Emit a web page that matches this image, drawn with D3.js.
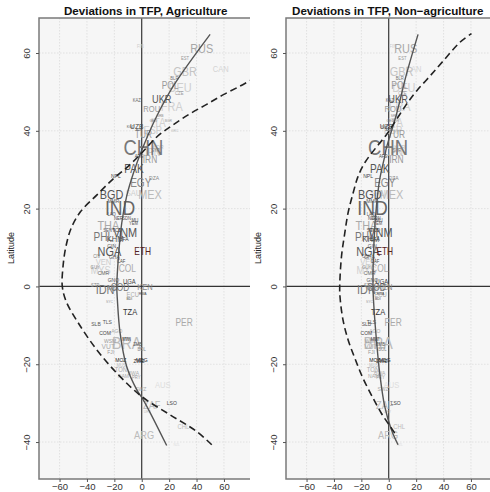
<!DOCTYPE html>
<html><head><meta charset="utf-8">
<script src="https://cdn.jsdelivr.net/npm/d3@7"></script>
<style>body{margin:0;background:#fff}svg{display:block}</style>
</head><body>
<script>
// ---- data ----
const panelTitles = ["Deviations in TFP, Agriculture", "Deviations in TFP, Non\u2212agriculture"];
const xTicks = [-60,-40,-20,0,20,40,60];
const yTicks = [-40,-20,0,20,40,60];
// country labels: code, latitude, deviation agriculture, deviation non-agriculture, font size, colour
const codes = ["RUS","EST","CAN","GBR","BLR","POL","DEU","CZE","KAZ","UKR","FRA","ROU","SRB","BGR","GEO","ITA","UZB","KGZ","ESP","GRC","TUR","AZE","CHN","JPN","IRN","AFG","SYR","KOR","PAK","NPL","DZA","EGY","SAU","MEX","BGD","MMR","IND","LAO","NER","SDN","YEM","MLI","THA","SEN","VNM","TCD","PHL","KHM","BFA","GIN","NGA","ETH","CIV","GHA","VEN","CAF","COL","GUY","MYS","CMR","GNQ","UGA","KEN","IDN","COD","STP","GAB","ECU","RWA","BDI","SYC","TZA","PER","SLB","TLS","COM","AGO","MWI","WSM","BRA","VUT","FJI","BOL","ZMB","MOZ","MDG","ZWE","TON","MUS","NAM","BWA","PRY","AUS","SWZ","LSO","ZAF","URY","CHL","ARG","NZL","FIN"];
const lats  = [61.2,58.5,56,55.2,53.6,51.7,51.2,49.6,47.8,48.1,46.1,45.7,43.8,42.6,42.5,42,41.2,41,40.2,40,39,40.3,35.8,34.5,32.5,33.5,35,36,30.2,28.5,28,26.6,24.2,23.6,23.6,21.9,20.4,18.5,17.4,17.4,16.3,17,15.6,14.5,13.9,14.5,12.9,12.2,12.2,10.5,9,8.9,7.6,7.5,6.4,6.5,4.6,5,4.1,3.5,1.7,1.3,0,-0.8,-0.4,0.3,-0.5,-1.9,-1.9,-3.2,-4.1,-6.6,-9.3,-9.7,-9.2,-12,-11.3,-13.5,-13.9,-14.6,-15.4,-16.7,-16.3,-15,-18.9,-18.9,-19,-21.3,-20.2,-23,-22.1,-23.4,-25.3,-26.4,-29.8,-30.5,-32.2,-35.9,-38.3,-40.7,61.8];
const devAg = [43.8,31.6,57.7,31.6,23.8,20.7,28,27.4,-3.6,14.6,21.9,7.3,13.4,19.4,8.5,12,-3.6,-8.5,8,24,1.2,-2,1.2,7.3,6,-2,10,12,-5.6,-18.8,9,-0.7,-6,6,-22,-20.7,-15.8,-22,-17,-11,-6,-5,-24.4,-25,-12.2,-18,-28,-19.5,-13,-22,-23.6,0.7,-32.8,-20,-28,-15,-10.5,-34,-30,-28,-20.7,-9,2.4,-26.8,-15.8,-34,-22,-6.6,0.7,-9,-23.6,-8.5,30.9,-33.4,-25.1,-26.8,-18.2,-11,-23.1,-11,-24.4,-22.6,0,-3,-15.3,0,-2,-15.3,-15,-13.4,-6.1,-4,15.3,-0.7,21.9,7.3,4.1,30.4,1.7,25.5,-1];
const devNa = [12.4,10,18,9.3,8,8,11,10,0.7,6.8,8,3,4,5,1,5,-1.7,-3,3,6,5.6,0,-0.5,4,5.6,-4,6,8,-6.6,-15.1,3.6,-2.9,-7.8,2,-13.9,-12,-11.9,-13,-12,-9,-8,-7,-16.3,-13,-6.1,-10,-17.5,-13,-10,-12,-15.1,-2.9,-17,-14,-15.1,-10,-6.6,-16,-16.3,-14,-12,-5,-2.9,-16.3,-9,-15,-12,-6,-6,-8,-14,-7.8,3.2,-16.3,-12.6,-16.3,-10.2,-10,-13,-7.8,-13,-12.6,-4.6,-6,-10.2,-2.9,-5,-11.5,-11,-11,-6.6,-6,2,-4.2,5.1,-2.9,-1,7.5,-0.5,8,3];
const sizes = [13,5,9,13,5,10,13,5,5,11,13,9,4,4,4,12,8,4,11,4,10,4,22,11,10,5,5,6,12,6,6,12,9,13,13,6,21,5,5,5,5,5,13,5,13,6,12,9,6,6,13,10,5,6,9,5,10,5,11,6,6,7,9,13,10,5,5,7,4,4,4,9,10,6,6,6,6,5,6,17,8,6,5,5,6,6,6,7,5,6,6,5,9,6,6,11,4,7,11,4,5];
const colours = ["#a8a8a8","#999","#d4d4d4","#c4c4c4","#777","#999","#cfcfcf","#999","#666","#555","#d0d0d0","#999","#888","#999","#777","#d0d0d0","#444","#555","#ccc","#bbb","#9a9a9a","#666","#787878","#c8c8c8","#999","#444","#777","#bbb","#555","#444","#888","#888","#ccc","#bbb","#555","#555","#666","#555","#444","#555","#555","#444","#aaa","#555","#555","#444","#777","#555","#444","#555","#555","#552222","#777","#555","#ccc","#444","#aaa","#888","#cfcfcf","#666","#555","#444","#888","#777","#777","#888","#999","#aaa","#444","#444","#999","#333","#aaa","#555","#555","#444","#aaa","#333","#999","#bbb","#aaa","#999","#888","#555","#222","#222","#333","#aaa","#bbb","#aaa","#aaa","#999","#ddd","#aaa","#444","#bbb","#bbb","#bbb","#bbb","#ddd","#ccc"];
// fitted curves: [latitude, deviation]
const fitAgSolid = [[-40.9,18.2],[-29.2,1.2],[-26.6,-3.6],[-20.6,-11],[-12,-15.8],[-3.4,-17.8],[0,-18.2],[7.7,-17],[16.3,-14.6],[23.2,-11],[29.2,-6],[35,0],[43.8,11],[51.5,23],[64.8,49.9]];
const fitAgDashed = [[-40.7,51.1],[-37.3,40.1],[-33,20.7],[-28.3,0],[-22.7,-17.1],[-16.3,-32.8],[-9.4,-46.3],[-4,-55],[0,-58],[5,-57.5],[10,-55.5],[15,-51.5],[19.3,-44.5],[23.6,-32.5],[27.6,-21],[31,-9.5],[34.5,0.5],[38.6,11.5],[41.6,23.1],[44.4,35.3],[46.8,47.4],[49.3,59.6],[51.5,71.8],[53.5,82]];
const fitNaSolid = [[-40.7,6.8],[-36.9,2],[-30.9,-2.9],[-22.3,-6.6],[-13.7,-9],[-6,-10.7],[0,-11.5],[12,-10.7],[20.6,-9],[27.5,-6.6],[33.5,-2.9],[35.6,-1.7],[44.2,5.6],[54.5,12.9],[64.8,21.4]];
const fitNaDashed = [[-37.7,4.4],[-35.2,-0.5],[-32.6,-5.4],[-28.7,-11.5],[-23.6,-18.8],[-18.4,-24.8],[-13.7,-29.7],[-8.6,-33.4],[-2.6,-35.6],[0,-35.8],[7.7,-34.5],[13.7,-32.1],[18.9,-29.7],[24,-26],[28.3,-22.4],[31.8,-17.5],[35.6,-9.5],[39,-1.7],[42.9,5.6],[46.8,12.9],[50.2,20.2],[54,29.9],[57.9,39.6],[62.7,51.8],[65,60.4]];

// ---- drawing ----
const W = 490, H = 492;
const svg = d3.select("body").append("svg").attr("width", W).attr("height", H);
const font = "'Liberation Sans', Arial, Helvetica, sans-serif";
const y = d3.scaleLinear().domain([-49.5, 69]).range([479, 18]);

const panels = [
  {title: panelTitles[0], x0: 39, clipR: 250, dev: devAg, solid: fitAgSolid, dashed: fitAgDashed, tShift: 4},
  {title: panelTitles[1], x0: 286, clipR: 490, dev: devNa, solid: fitNaSolid, dashed: fitNaDashed, tShift: -1}
];

panels.forEach((p, pi) => {
  const x = d3.scaleLinear().domain([-75, 75]).range([p.x0, p.x0 + 205.5]);
  const g = svg.append("g");
  const clipId = "clip" + pi;
  svg.append("clipPath").attr("id", clipId).append("rect")
    .attr("x", p.x0).attr("y", 18).attr("width", p.clipR - p.x0).attr("height", 461);
  const pg = g.append("g").attr("clip-path", `url(#${clipId})`);
  pg.append("rect").attr("x", p.x0).attr("y", 18).attr("width", p.clipR - p.x0).attr("height", 461).attr("fill", "#f6f6f6");
  // grid
  pg.selectAll(".gx").data(xTicks.filter(d => d !== 0)).join("line")
    .attr("x1", d => x(d)).attr("x2", d => x(d)).attr("y1", 18).attr("y2", 479)
    .attr("stroke", "#dcdcdc").attr("stroke-width", 0.8).attr("stroke-dasharray", "1.5,1.5");
  pg.selectAll(".gy").data(yTicks.filter(d => d !== 0)).join("line")
    .attr("x1", p.x0).attr("x2", p.clipR).attr("y1", d => y(d)).attr("y2", d => y(d))
    .attr("stroke", "#dcdcdc").attr("stroke-width", 0.8).attr("stroke-dasharray", "1.5,1.5");
  // zero lines
  pg.append("line").attr("x1", x(0)).attr("x2", x(0)).attr("y1", 18).attr("y2", 479).attr("stroke", "#111").attr("stroke-width", 1);
  pg.append("line").attr("x1", p.x0).attr("x2", p.clipR).attr("y1", y(0)).attr("y2", y(0)).attr("stroke", "#333").attr("stroke-width", 1.3);
  // labels
  const idx = d3.range(codes.length).sort((a, b) => d3.descending(colours[a], colours[b]));
  pg.selectAll(".lab").data(idx).join("text")
    .attr("transform", i => `translate(${x(p.dev[i])},${y(lats[i])}) scale(0.84,1)`)
    .attr("text-anchor", "middle").attr("dominant-baseline", "central")
    .attr("font-family", font).attr("font-size", i => sizes[i]).attr("fill", i => colours[i])
    .text(i => codes[i]);
  // fitted curves
  const line = d3.line().x(d => x(d[1])).y(d => y(d[0])).curve(d3.curveCatmullRom);
  pg.append("path").attr("d", line(p.solid)).attr("fill", "none").attr("stroke", "#555").attr("stroke-width", 1.4);
  pg.append("path").attr("d", line(p.dashed)).attr("fill", "none").attr("stroke", "#222").attr("stroke-width", 1.6).attr("stroke-dasharray", "7,4");
  // frame (left, top, bottom)
  g.append("path").attr("d", `M${p.clipR},18H${p.x0}V479H${p.clipR}`).attr("fill", "none").attr("stroke", "#7a7a7a").attr("stroke-width", 1.5);
  // axes
  const ax = g.append("g").attr("transform", "translate(0,479)")
    .call(d3.axisBottom(x).tickValues(xTicks).tickSize(3).tickPadding(1).tickFormat(d3.format("d")));
  ax.select(".domain").remove();
  ax.selectAll("line").attr("stroke", "#555");
  ax.selectAll("text").attr("font-family", font).attr("font-size", 9.5).attr("fill", "#333");
  const ay = g.append("g").attr("transform", `translate(${p.x0},0)`)
    .call(d3.axisLeft(y).tickValues(yTicks).tickSize(3).tickFormat(d3.format("d")));
  ay.select(".domain").remove();
  ay.selectAll("line").attr("stroke", "#555");
  ay.selectAll("text").attr("font-family", font).attr("font-size", 9.5).attr("fill", "#333")
    .attr("text-anchor", "middle").attr("dy", 0).attr("x", 0)
    .attr("transform", "translate(-9,0) rotate(-90)");
  // y label
  g.append("text").attr("transform", `translate(${p.x0 - 25},248) rotate(-90)`)
    .attr("text-anchor", "middle").attr("font-family", font).attr("font-size", 9).attr("fill", "#222").text("Latitude");
  // title
  g.append("text").attr("x", x(0) + p.tShift).attr("y", 15).attr("text-anchor", "middle")
    .attr("font-family", font).attr("font-weight", "bold").attr("font-size", 11.6).attr("fill", "#111").text(p.title);
});
</script>
</body></html>
